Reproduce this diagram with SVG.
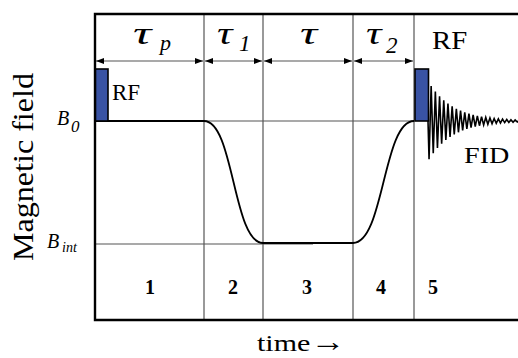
<svg xmlns="http://www.w3.org/2000/svg" width="518" height="358" viewBox="0 0 518 358">
<defs>
<marker id="ah" viewBox="0 0 8 6" refX="8" refY="3" markerWidth="8" markerHeight="6" markerUnits="userSpaceOnUse" orient="auto-start-reverse">
<path d="M0,0 L8,3 L0,6 Z" fill="#000"/>
</marker>
</defs>
<g id="grid" stroke="#555" stroke-width="1.2" fill="none">
<line x1="204" y1="14" x2="204" y2="320"/>
<line x1="263" y1="14" x2="263" y2="320"/>
<line x1="353" y1="14" x2="353" y2="320"/>
<line x1="414" y1="14" x2="414" y2="320"/>
<line x1="204" y1="121" x2="414" y2="121"/>
<line x1="95" y1="244" x2="313" y2="244"/>
</g>
<g id="frame">
<path d="M518,14 H95 V320 H518" fill="none" stroke="#000" stroke-width="2.4"/>
</g>
<g id="connectors" stroke="#555" stroke-width="1.2" fill="none" marker-start="url(#ah)" marker-end="url(#ah)">
<line x1="96" y1="61" x2="203" y2="61"/>
<line x1="205" y1="61" x2="262" y2="61"/>
<line x1="264" y1="61" x2="352" y2="61"/>
<line x1="354" y1="61" x2="413" y2="61"/>
</g>
<g id="signal" stroke="#000" fill="none">
<path stroke-width="1.8" d="M95,121 H204 C234,121 233,243 263,243 H353 C384,243 383,121 414,121"/>
<path stroke-width="1.6" d="M428,121 L429.05,159.3 L431.15,85.9 L433.25,153.1 L435.35,91.5 L437.45,148 L439.55,96.3 L441.65,143.7 L443.75,100.2 L445.85,140 L447.95,103.6 L450.05,137 L452.15,106.4 L454.25,134.4 L456.35,108.7 L458.45,132.3 L460.55,110.7 L462.65,130.4 L464.75,112.3 L466.85,128.9 L468.95,113.7 L471.05,127.7 L473.15,114.9 L475.25,126.6 L477.35,115.9 L479.45,125.7 L481.55,116.7 L483.65,124.9 L485.75,117.4 L487.85,124.3 L489.95,118 L492.05,123.8 L494.15,118.5 L496.25,123.3 L498.35,118.9 L500.45,123 L502.55,119.2 L504.65,122.6 L506.75,119.5 L508.85,122.4 L510.95,119.7 L513.05,122.2 L515.15,119.9 L517.25,122 L519.35,120.1"/>
</g>
<g id="rf1">
<rect x="95.5" y="69" width="12.5" height="52" fill="#3953a4" stroke="#000" stroke-width="1.6"/>
<text x="112" y="100" font-family="Liberation Serif" font-size="23">RF</text>
</g>
<g id="rf2">
<rect x="415" y="69" width="13.5" height="52" fill="#3953a4" stroke="#000" stroke-width="1.6"/>
<text transform="translate(432,49) scale(1.15,1)" font-family="Liberation Serif" font-size="25">RF</text>
</g>
<text transform="translate(464,163) scale(1.25,1)" font-family="Liberation Serif" font-size="22.5">FID</text>
<g id="labels-top">
<text transform="translate(133,44) scale(1.6,1)" font-family="Liberation Serif" font-style="italic" font-size="32">τ</text>
<text x="160" y="50" font-family="Liberation Serif" font-style="italic" font-size="22">p</text>
<text transform="translate(217,44) scale(1.35,1)" font-family="Liberation Serif" font-style="italic" font-size="32">τ</text>
<text x="239" y="51" font-family="Liberation Serif" font-style="italic" font-size="23">1</text>
<text transform="translate(300,44) scale(1.5,1)" font-family="Liberation Serif" font-style="italic" font-size="32">τ</text>
<text transform="translate(366,44) scale(1.35,1)" font-family="Liberation Serif" font-style="italic" font-size="32">τ</text>
<text x="386" y="53" font-family="Liberation Serif" font-style="italic" font-size="23">2</text>
</g>
<g id="axis-labels">
<text x="57" y="125" font-family="Liberation Serif" font-style="italic" font-size="20">B</text>
<text x="71" y="132" font-family="Liberation Serif" font-style="italic" font-size="17">0</text>
<text x="47" y="248" font-family="Liberation Serif" font-style="italic" font-size="20">B</text>
<text x="62" y="252" font-family="Liberation Serif" font-style="italic" font-size="14">int</text>
<text transform="translate(33,167) rotate(-90) scale(1.07,1)" text-anchor="middle" font-family="Liberation Serif" font-size="30">Magnetic field</text>
<text transform="translate(257,351) scale(1.25,1)" font-family="Liberation Serif" font-size="24">time<tspan font-size="28">→</tspan></text>
</g>
<g id="numbers">
<text x="150" y="294" font-family="Liberation Serif" font-weight="bold" font-size="20" text-anchor="middle">1</text>
<text x="233" y="294" font-family="Liberation Serif" font-weight="bold" font-size="20" text-anchor="middle">2</text>
<text x="307" y="294" font-family="Liberation Serif" font-weight="bold" font-size="20" text-anchor="middle">3</text>
<text x="381" y="294" font-family="Liberation Serif" font-weight="bold" font-size="20" text-anchor="middle">4</text>
<text x="433" y="294" font-family="Liberation Serif" font-weight="bold" font-size="20" text-anchor="middle">5</text>
</g>
</svg>
